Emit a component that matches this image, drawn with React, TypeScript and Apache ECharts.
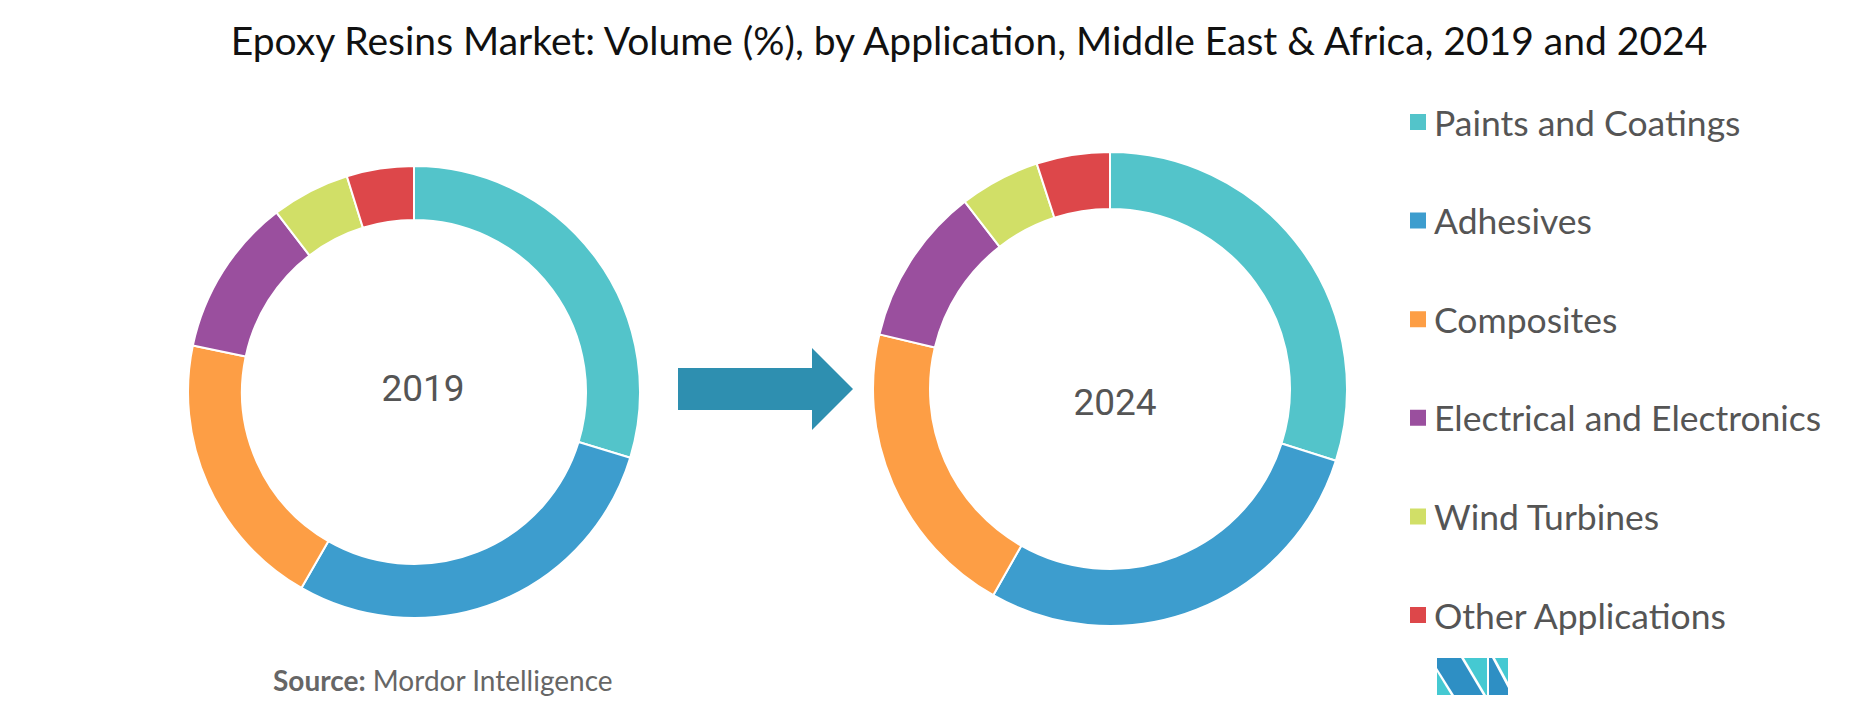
import React, { useEffect, useRef } from "react";
import * as echarts from "echarts";

const categories = [
  "Paints and Coatings",
  "Adhesives",
  "Composites",
  "Electrical and Electronics",
  "Wind Turbines",
  "Other Applications",
];
const values2019 = [29.7, 28.6, 20.0, 11.3, 5.6, 4.8];
const values2024 = [29.9, 28.3, 20.5, 10.8, 5.5, 5.0];
const colors = ["#53C4CA", "#3D9DCE", "#FD9E45", "#9A4F9E", "#D1DF67", "#DD474A"];
const years = ["2019", "2024"];

const logoBlue = "#2E8FC4";
const logoTeal = "#45C9D2";

export default function App() {
  const ref = useRef<HTMLDivElement>(null);
  useEffect(() => {
    if (!ref.current) return;
    const chart = echarts.init(ref.current, null, { renderer: "svg" });
    const mk = (vals: number[]) =>
      categories.map((c, i) => ({ name: c, value: vals[i], itemStyle: { color: colors[i] } }));
    const lx = 1437;
    const ly = 658;
    const pts = (arr: number[][]) => arr.map(([x, y]) => [lx + x, ly + y]);
    chart.setOption({
      animation: false,
      backgroundColor: "#fff",
      legend: {
        orient: "vertical",
        left: 1403,
        top: 97,
        icon: "rect",
        itemWidth: 18,
        itemHeight: 18,
        itemGap: 58.6,
        data: categories,
        selectedMode: false,
        textStyle: {
          fontFamily: "Lato",
          fontSize: 35.5,
          color: "#555",
          lineHeight: 40,
          padding: [0, 0, 0, 2],
        },
      },
      series: [
        {
          type: "pie",
          center: [414, 392],
          radius: [172, 226],
          startAngle: 90,
          clockwise: true,
          label: { show: false },
          labelLine: { show: false },
          itemStyle: { borderColor: "#fff", borderWidth: 2 },
          emphasis: { disabled: true },
          data: mk(values2019),
        },
        {
          type: "pie",
          center: [1110, 389],
          radius: [180, 237],
          startAngle: 90,
          clockwise: true,
          label: { show: false },
          labelLine: { show: false },
          itemStyle: { borderColor: "#fff", borderWidth: 2 },
          emphasis: { disabled: true },
          data: mk(values2024),
        },
      ],
      graphic: [
        {
          type: "text",
          x: 969,
          y: 40,
          style: {
            text: "Epoxy Resins Market: Volume (%), by Application, Middle East & Africa, 2019 and 2024",
            fontFamily: "Lato",
            fontSize: 39,
            fill: "#111",
            align: "center",
            verticalAlign: "middle",
          },
        },
        {
          type: "text",
          x: 423,
          y: 388,
          style: {
            text: years[0],
            fontFamily: "Roboto",
            fontSize: 37,
            fill: "#555",
            align: "center",
            verticalAlign: "middle",
          },
        },
        {
          type: "text",
          x: 1115,
          y: 402,
          style: {
            text: years[1],
            fontFamily: "Roboto",
            fontSize: 37,
            fill: "#555",
            align: "center",
            verticalAlign: "middle",
          },
        },
        {
          type: "polygon",
          shape: {
            points: [
              [678, 368],
              [812, 368],
              [812, 348],
              [853, 389],
              [812, 430],
              [812, 410],
              [678, 410],
            ],
          },
          style: { fill: "#2E8FB0" },
        },
        {
          type: "text",
          x: 273,
          y: 680,
          style: {
            text: "{b|Source:} Mordor Intelligence",
            fontFamily: "Lato",
            fontSize: 28,
            fill: "#666",
            verticalAlign: "middle",
            rich: {
              b: { fontFamily: "Lato", fontSize: 28, fontWeight: "bold", fill: "#666" },
            },
          },
        },
        { type: "polygon", shape: { points: pts([[0, 0], [24, 0], [46, 37], [17, 37], [0, 10]]) }, style: { fill: logoBlue } },
        { type: "polygon", shape: { points: pts([[0, 14], [0, 37], [14, 37]]) }, style: { fill: logoTeal } },
        { type: "polygon", shape: { points: pts([[27, 0], [50, 0], [50, 37], [49, 37]]) }, style: { fill: logoTeal } },
        { type: "polygon", shape: { points: pts([[52, 0], [55, 0], [71, 30], [71, 37], [52, 37]]) }, style: { fill: logoBlue } },
        { type: "polygon", shape: { points: pts([[58, 0], [71, 0], [71, 24]]) }, style: { fill: logoTeal } },
      ],
    });
    return () => chart.dispose();
  }, []);
  return (
    <div
      ref={ref}
      style={{ position: "absolute", left: 0, top: 0, width: 1854, height: 715 }}
    />
  );
}
